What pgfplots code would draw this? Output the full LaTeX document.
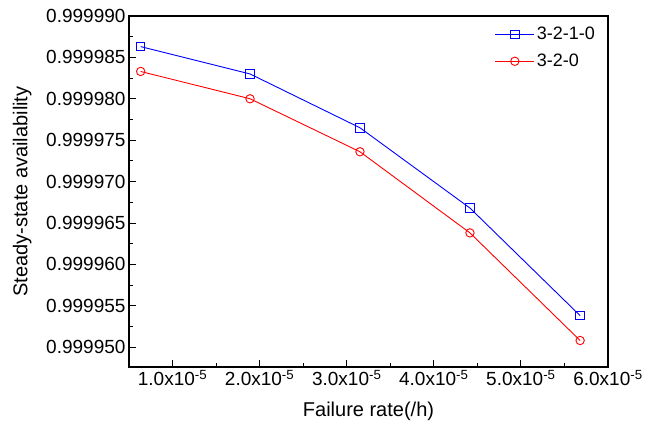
\documentclass[border=0pt]{standalone}
\usepackage{fontspec}
\setmainfont{Liberation Sans}
\usepackage{pgfplots}
\pgfplotsset{compat=1.18}
\usepackage{pgfplotstable}

\pgfplotstableread{
x        y
0.634e-5 0.9999863
1.890e-5 0.9999830
3.152e-5 0.9999765
4.415e-5 0.9999668
5.680e-5 0.9999538
}\seriesA

\pgfplotstableread{
x        y
0.634e-5 0.9999833
1.890e-5 0.9999800
3.152e-5 0.9999736
4.415e-5 0.9999638
5.680e-5 0.9999508
}\seriesB

% keep precision: map 0.9999abc... to ab.c (units of 1e-6 above 0.9999)
\def\availstrip 0.9999#1#2#3#4\relax{\edef\pgfmathresult{#1#2.#3}}

\begin{document}
\begin{tikzpicture}
\begin{axis}[
  scale only axis,
  width=479pt, height=351pt,
  xmin=0.5e-5, xmax=6e-5,
  ymin=0.9999476, ymax=0.99999,
  y coord trafo/.code={\edef\availtmp{#1}\expandafter\availstrip\availtmp000\relax},
  scaled x ticks=false,
  scaled y ticks=false,
  xtick={1e-5,2e-5,3e-5,4e-5,5e-5,6e-5},
  xticklabels={1.0x10\textsuperscript{-5},2.0x10\textsuperscript{-5},3.0x10\textsuperscript{-5},4.0x10\textsuperscript{-5},5.0x10\textsuperscript{-5},6.0x10\textsuperscript{-5}},
  ytick={0.999950,0.999955,0.999960,0.999965,0.999970,0.999975,0.999980,0.999985,0.999990},
  yticklabels={0.999950,0.999955,0.999960,0.999965,0.999970,0.999975,0.999980,0.999985,0.999990},
  minor x tick num=1,
  minor y tick num=1,
  xtick pos=bottom, ytick pos=left,
  tick align=inside,
  major tick length=6.5pt,
  minor tick length=3.5pt,
  every tick/.style={black, line width=0.9pt},
  axis line style={line width=1.1pt},
  tick label style={font=\fontsize{19}{21}\selectfont},
  xlabel={Failure rate(/h)},
  ylabel={Steady-state availability},
  every axis x label/.style={at={(axis description cs:0.5,-0.125)}, anchor=center, font=\fontsize{20}{22}\selectfont},
  every axis y label/.style={at={(axis description cs:-0.223,0.5)}, rotate=90, anchor=center, font=\fontsize{20}{22}\selectfont},
  legend style={at={(rel axis cs:1,1)}, anchor=north east, xshift=-8pt, yshift=-7pt,
    draw=none, fill=none, font=\fontsize{18}{20}\selectfont, row sep=9pt},
  legend cell align=left,
  legend image code/.code={\draw[mark repeat=2,mark phase=2,#1] plot coordinates {(0pt,0pt)(19.5pt,0pt)(39pt,0pt)};},
]
\addplot[blue, line width=0.9pt, mark=square, mark size=4.2pt, mark options={fill=white, solid}] table[x=x,y=y] {\seriesA};
\addlegendentry{3-2-1-0}
\addplot[red, line width=0.9pt, mark=o, mark size=4.2pt, mark options={fill=white, solid}] table[x=x,y=y] {\seriesB};
\addlegendentry{3-2-0}
\end{axis}
\path ([xshift=-129pt,yshift=-62pt]current axis.south west) rectangle ([xshift=46pt,yshift=16pt]current axis.north east);
\end{tikzpicture}
\end{document}
